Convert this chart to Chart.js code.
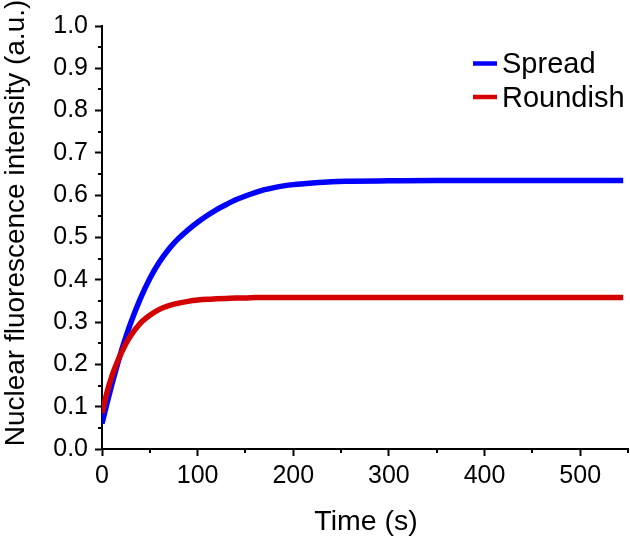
<!DOCTYPE html>
<html>
<head>
<meta charset="utf-8">
<script src="https://cdn.jsdelivr.net/npm/chart.js@4/dist/chart.umd.min.js"></script>
<style>
  html, body { margin: 0; padding: 0; background: #ffffff; }
  #c { display: block; }
</style>
</head>
<body>
<canvas id="c" width="630" height="539"></canvas>
<script>
// ---- data ----
const timeSeconds    = [0,     5,     10,    15,    20,    25,    30,    40,    50,    60,    70,    80,    90,    100,   110,   120,   130,   140,   150,   160,   170,   180,   190,   200,   220,   240,   260,   300,   350,   400,   450,   500,   545];
const spreadValues   = [0.060, 0.106, 0.150, 0.191, 0.230, 0.265, 0.298, 0.355, 0.403, 0.442, 0.473, 0.498, 0.518, 0.536, 0.552, 0.566, 0.578, 0.589, 0.598, 0.606, 0.613, 0.618, 0.622, 0.625, 0.629, 0.632, 0.633, 0.634, 0.635, 0.635, 0.635, 0.635, 0.635];
const roundishValues = [0.085, 0.132, 0.170, 0.200, 0.226, 0.249, 0.268, 0.297, 0.316, 0.330, 0.339, 0.345, 0.349, 0.352, 0.354, 0.355, 0.356, 0.357, 0.357, 0.358, 0.358, 0.358, 0.358, 0.358, 0.358, 0.358, 0.358, 0.358, 0.358, 0.358, 0.358, 0.358, 0.358];
const seriesLabels = ['Spread', 'Roundish'];
const xTitle = 'Time (s)';
const yTitle = 'Nuclear fluorescence intensity (a.u.)';
const xMinorTicks = [50, 150, 250, 350, 450, 550];
const yMinorTicks = [0.05, 0.15, 0.25, 0.35, 0.45, 0.55, 0.65, 0.75, 0.85, 0.95];

const FONT = '"Liberation Sans", Arial, Helvetica, sans-serif';

function toPoints(xs, ys) { return xs.map((x, i) => ({ x: x, y: ys[i] })); }

// minor ticks, axis titles and the in-plot legend
const decorations = {
  id: 'decorations',
  afterDraw(chart) {
    const ctx = chart.ctx;
    const xs = chart.scales.x, ys = chart.scales.y;
    const area = chart.chartArea;
    ctx.save();
    ctx.strokeStyle = '#000';
    ctx.lineWidth = 2;
    ctx.beginPath();
    xMinorTicks.forEach(v => {
      const px = Math.round(xs.getPixelForValue(v));
      ctx.moveTo(px, area.bottom);
      ctx.lineTo(px, area.bottom + 4);
    });
    yMinorTicks.forEach(v => {
      const py = Math.round(ys.getPixelForValue(v));
      ctx.moveTo(area.left, py);
      ctx.lineTo(area.left - 4, py);
    });
    ctx.stroke();

    // axis titles
    ctx.fillStyle = '#000';
    ctx.font = '28.5px ' + FONT;
    ctx.textAlign = 'center';
    ctx.textBaseline = 'alphabetic';
    ctx.fillText(xTitle, (area.left + area.right) / 2 + 1, 530);
    ctx.save();
    ctx.translate(23.5, 223);
    ctx.rotate(-Math.PI / 2);
    ctx.font = '28px ' + FONT;
    ctx.fillText(yTitle, 0, 0);
    ctx.restore();

    // legend
    ctx.font = '29px ' + FONT;
    ctx.textAlign = 'left';
    chart.data.datasets.forEach((ds, i) => {
      const cy = 63.5 + i * 33.5;
      ctx.strokeStyle = ds.borderColor;
      ctx.lineWidth = 4.5;
      ctx.beginPath();
      ctx.moveTo(473, cy);
      ctx.lineTo(497, cy);
      ctx.stroke();
      ctx.fillStyle = '#000';
      ctx.fillText(ds.label, 502, cy + 9.5);
    });
    ctx.restore();
  }
};

new Chart(document.getElementById('c'), {
  type: 'line',
  data: {
    datasets: [
      { label: seriesLabels[0], data: toPoints(timeSeconds, spreadValues), borderColor: '#0000ff', backgroundColor: '#0000ff', borderWidth: 5.5, pointRadius: 0, cubicInterpolationMode: 'monotone', order: 2, fill: false },
      { label: seriesLabels[1], data: toPoints(timeSeconds, roundishValues), borderColor: '#d40000', backgroundColor: '#d40000', borderWidth: 5.5, pointRadius: 0, cubicInterpolationMode: 'monotone', order: 1, fill: false }
    ]
  },
  options: {
    responsive: false,
    devicePixelRatio: 1,
    animation: false,
    layout: { padding: { top: 26, right: 2, left: 0, bottom: 0 } },
    plugins: { legend: { display: false }, tooltip: { enabled: false } },
    scales: {
      x: {
        type: 'linear', min: 0, max: 550,
        afterFit(scale) { scale.height = 90; },
        ticks: { stepSize: 100, includeBounds: false, color: '#000', padding: 5, maxRotation: 0, font: { family: FONT, size: 25, lineHeight: 1.2 } },
        grid: { display: true, drawOnChartArea: false, drawTicks: true, tickLength: 7, tickWidth: 2, tickColor: '#000', color: '#000' },
        border: { display: true, color: '#000', width: 2 },
        title: { display: false }
      },
      y: {
        type: 'linear', min: 0, max: 1,
        afterFit(scale) { scale.width = 102; },
        ticks: { stepSize: 0.1, color: '#000', padding: 7, callback: v => Number(v).toFixed(1), font: { family: FONT, size: 25, lineHeight: 1.2 } },
        grid: { display: true, drawOnChartArea: false, drawTicks: true, tickLength: 7, tickWidth: 2, tickColor: '#000', color: '#000' },
        border: { display: true, color: '#000', width: 2 },
        title: { display: false }
      }
    }
  },
  plugins: [decorations]
});
</script>
</body>
</html>
